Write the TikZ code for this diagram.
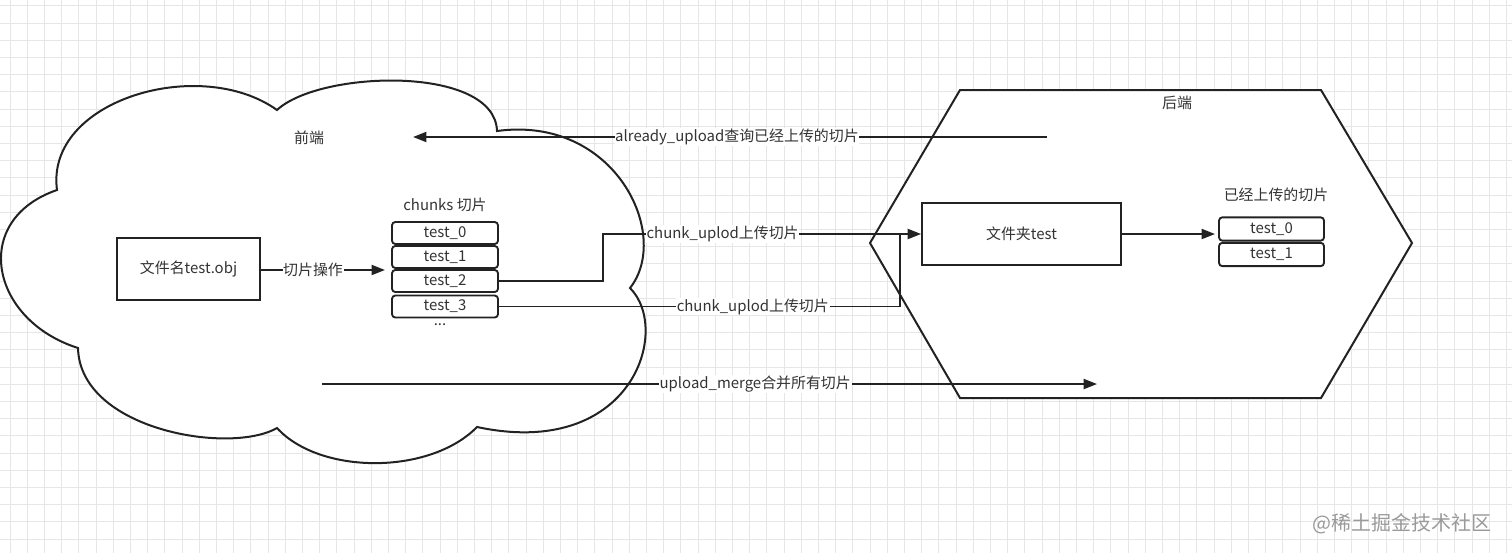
\documentclass[tikz,border=0pt]{standalone}
\usepackage{fontspec}
\setmainfont{Noto Sans CJK SC}
\usetikzlibrary{arrows.meta}
\definecolor{ink}{HTML}{222222}
\definecolor{txt}{HTML}{333333}
\definecolor{gridc}{HTML}{E6E6E6}
\definecolor{wm}{HTML}{9A9A9A}
\tikzset{
  shapeline/.style={draw=ink, line width=1.5pt, fill=white, line join=miter},
  conn/.style={draw=ink, line width=1.4pt},
  arr/.style={conn, -{Triangle[length=10pt,width=7.5pt]}},
  lbl/.style={fill=white, text=txt, inner sep=0.5pt, font=\fontsize{11.2}{13}\selectfont},
  plain/.style={text=txt, font=\fontsize{11.2}{13}\selectfont},
  bigbox/.style={draw=ink, line width=1.4pt, fill=white, text=txt, font=\fontsize{11.2}{13}\selectfont, inner sep=0pt},
  chunkbox/.style={draw=ink, line width=1.4pt, fill=white, rounded corners=2.5pt, text=txt, font=\fontsize{11.2}{13}\selectfont, inner sep=0pt, minimum width=79.5pt, minimum height=16.5pt},
}
\begin{document}
\begin{tikzpicture}[x=0.75pt,y=-0.75pt]
\useasboundingbox (0,0) rectangle (1512,553);
\fill[white] (0,0) rectangle (1512,553);
% grid
\foreach \i in {0,...,88} {
  \draw[gridc, line width=0.6pt] ({10+17.2*\i},0) -- ({10+17.2*\i},553);
}
\foreach \j in {0,...,32} {
  \draw[gridc, line width=0.6pt] (0,{5.7+17.2*\j}) -- (1512,{5.7+17.2*\j});
}
% cloud
\path[shapeline] (57,190)
  .. controls (45,100) and (200,55) .. (277,110)
  .. controls (320,70) and (495,65) .. (497,131)
  .. controls (615,115) and (672,235) .. (630,288)
  .. controls (672,330) and (632,460) .. (477,427)
  .. controls (430,475) and (320,475) .. (277,428)
  .. controls (230,455) and (80,430) .. (78,348)
  .. controls (-10,320) and (-30,220) .. cycle;
% hexagon
\path[shapeline] (960,90) -- (1321,90) -- (1412,243) -- (1321,398) -- (960,398) -- (870,243) -- cycle;

% labels
\node[plain] (fe) at (309,138) {前端};
\node[plain] (be) at (1177,103) {后端};
\node[plain] (chk) at (445,205) {chunks 切片};
\node[plain] (up) at (1276,195) {已经上传的切片};

% boxes
\node[bigbox, minimum width=107.25pt, minimum height=46.5pt] (file) at (188.5,269) {文件名test.obj};
\node[chunkbox] (t0) at (445,233) {test\_0};
\node[chunkbox] (t1) at (445,257) {test\_1};
\node[chunkbox] (t2) at (445,281) {test\_2};
\node[chunkbox] (t3) at (445,306.5) {test\_3};
\node[plain] (dots) at (440,325) {...};
\node[bigbox, minimum width=149.25pt, minimum height=46.5pt] (folder) at (1021.5,234) {文件夹test};
\node[chunkbox, minimum width=78.75pt, minimum height=17.5pt] (u0) at (1271.5,229) {test\_0};
\node[chunkbox, minimum width=78.75pt, minimum height=17.5pt] (u1) at (1271.5,254.5) {test\_1};

% coordinates
\coordinate (cin) at (385,270);
\coordinate (aus) at (1047,137);
\coordinate (aue) at (413,137);
\coordinate (ms) at (322,384);
\coordinate (me) at (1097,384);
\coordinate (k0) at (603,281);
\coordinate (k1) at (603,234);
\coordinate (k2) at (900,306.5);
\coordinate (k3) at (900,234);
\coordinate (uin) at (1215,234);

% connectors
\draw[arr] (file.east |- cin) -- node[lbl, pos=0.42] {切片操作} (cin);
\draw[arr] (aus) -- node[lbl, pos=0.489] {already\_upload查询已经上传的切片} (aue);
\draw[arr] (ms) -- node[lbl, pos=0.559] {upload\_merge合并所有切片} (me);
\draw[arr] (t2.east) -- (k0) -- (k1) -- node[lbl, pos=0.376] {chunk\_uplod上传切片} (folder.west);
\draw[conn] (t3.east) -- node[lbl, pos=0.633] {chunk\_uplod上传切片} (k2) -- (k3);
\draw[arr] (folder.east) -- (uin);

% watermark
\node[text=wm, font=\fontsize{15}{17}\selectfont] (wmk) at (1402,524) {@稀土掘金技术社区};
\end{tikzpicture}
\end{document}
